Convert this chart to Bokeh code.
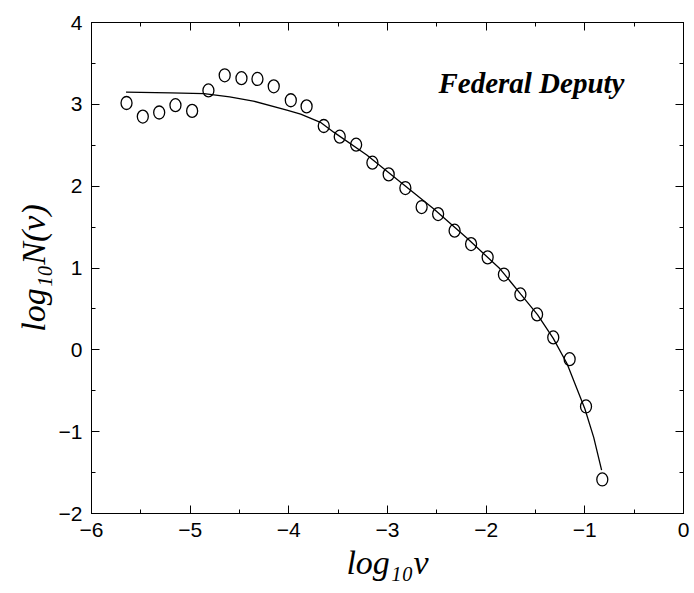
from bokeh.plotting import figure
from bokeh.models import Range1d, LinearAxis, FixedTicker, Label
from bokeh.embed import file_html
from bokeh.resources import INLINE

# ---- data ----
obs_x = [-5.645, -5.48, -5.314, -5.149, -4.98, -4.815, -4.65, -4.48, -4.318, -4.153,
         -3.98, -3.82, -3.646, -3.484, -3.318, -3.153, -2.988, -2.819, -2.654, -2.487,
         -2.32, -2.153, -1.985, -1.82, -1.653, -1.484, -1.32, -1.154, -0.988, -0.823]
obs_y = [3.016, 2.85, 2.90, 2.99, 2.92, 3.17, 3.355, 3.32, 3.31, 3.22,
         3.05, 2.975, 2.735, 2.605, 2.507, 2.287, 2.144, 1.977, 1.745, 1.659,
         1.456, 1.292, 1.13, 0.92, 0.677, 0.433, 0.152, -0.114, -0.692, -1.584]

fit_x = [-5.65, -5.2, -4.86, -4.6, -4.36, -4.02, -3.88, -3.68, -3.545, -3.21,
         -2.87, -2.53, -2.19, -1.86, -1.65, -1.48, -1.32, -1.18, -1.0, -0.91, -0.83]
fit_y = [3.15, 3.14, 3.13, 3.09, 3.04, 2.93, 2.88, 2.78, 2.66, 2.38,
         2.05, 1.72, 1.36, 0.99, 0.68, 0.43, 0.14, -0.17, -0.72, -1.07, -1.47]

x_ticks = [-6, -5, -4, -3, -2, -1, 0]
x_tick_labels = ["\u22126", "\u22125", "\u22124", "\u22123", "\u22122", "\u22121", "0"]
y_ticks = [-2, -1, 0, 1, 2, 3, 4]
y_tick_labels = ["\u22122", "\u22121", "0", "1", "2", "3", "4"]
x_minor = [-6 + 0.5 * i for i in range(13)]
y_minor = [-2 + 0.5 * i for i in range(13)]

title_text = "Federal Deputy"
x_label = "log\u2081\u2080v"
y_label = "log\u2081\u2080N(v)"

p = figure(width=690, height=592, output_backend="svg", toolbar_location=None,
           x_range=Range1d(-6, 0), y_range=Range1d(-2, 4),
           x_axis_location=None, y_axis_location=None,
           min_border_left=91, min_border_right=7, min_border_top=22, min_border_bottom=79)
p.grid.visible = False
p.outline_line_color = "black"
p.outline_line_width = 1
p.background_fill_color = "white"
p.border_fill_color = "white"

serif = "Liberation Serif"

def make_axis(ticks, minor, labels, show, title=None):
    ax = LinearAxis(ticker=FixedTicker(ticks=ticks, minor_ticks=minor))
    ax.major_tick_in = 8
    ax.major_tick_out = 0
    ax.minor_tick_in = 4
    ax.minor_tick_out = 0
    ax.axis_line_color = "black"
    ax.major_tick_line_color = "black"
    ax.minor_tick_line_color = "black"
    if show:
        ax.major_label_overrides = {t: l for t, l in zip(ticks, labels)}
        ax.major_label_text_font = "Liberation Sans"
        ax.major_label_text_font_size = "21px"
        ax.major_label_text_color = "black"
        ax.major_label_standoff = 9
        ax.axis_label = title
        ax.axis_label_text_font = serif
        ax.axis_label_text_font_style = "italic"
        ax.axis_label_text_font_size = "34px"
        ax.axis_label_text_color = "black"
        ax.axis_label_standoff = 4
    else:
        ax.major_label_overrides = {t: "" for t in ticks}
        ax.major_label_standoff = 0
    return ax

p.add_layout(make_axis(x_ticks, x_minor, x_tick_labels, True, x_label), "below")
p.add_layout(make_axis(y_ticks, y_minor, y_tick_labels, True, y_label), "left")
p.add_layout(make_axis(x_ticks, x_minor, x_tick_labels, False), "above")
p.add_layout(make_axis(y_ticks, y_minor, y_tick_labels, False), "right")

p.line(fit_x, fit_y, line_color="black", line_width=1.3)
p.ellipse(obs_x, obs_y, width=11, height=13, width_units="screen", height_units="screen",
          fill_color=None, line_color="black", line_width=1.3)

p.add_layout(Label(x=-2.484, y=3.257, text=title_text, text_font=serif,
                   text_font_style="bold italic", text_font_size="29px",
                   text_baseline="alphabetic", text_align="left", text_color="black"))

open("out.html", "w").write(file_html(p, INLINE))
